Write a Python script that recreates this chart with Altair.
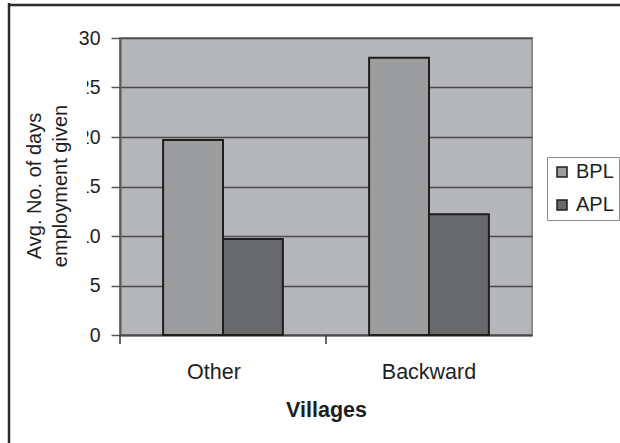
import altair as alt
import pandas as pd

# Average number of days of employment given, by village type and poverty status
villages = ["Other", "Backward"]
groups = ["BPL", "APL"]
bpl_days = [19.7, 28.0]
apl_days = [9.7, 12.2]
y_ticks = [0, 5, 10, 15, 20, 25, 30]
y_title = ["Avg. No. of days", "employment given"]
x_title = "Villages"
bar_colors = ["#9c9d9f", "#68696b"]

rows = []
for v, b, a in zip(villages, bpl_days, apl_days):
    rows.append({"village": v, "group": "BPL", "days": b})
    rows.append({"village": v, "group": "APL", "days": a})
df = pd.DataFrame(rows)

W, H = 412, 297
FONT = "Liberation Sans"
INK = "#1e1e1e"

x_enc = alt.X(
    "village:N",
    sort=villages,
    scale=alt.Scale(paddingInner=0, paddingOuter=0),
    axis=alt.Axis(
        title=x_title, labelAngle=0, ticks=False, tickSize=0, labelPadding=26,
        labelOffset={"condition": {"test": "datum.value == 'Other'", "value": -9},
                     "value": 0},
        labelFont=FONT, labelFontSize=21.5, labelColor=INK,
        titleFont=FONT, titleFontSize=21.5, titleFontWeight="bold", titleColor=INK,
        titleY=81, titleBaseline="alphabetic",
        domainColor="#4a4a4a", domainWidth=2, grid=False,
    ),
)

y_enc = alt.Y(
    "days:Q",
    scale=alt.Scale(domain=[0, 30], nice=False),
    axis=alt.Axis(
        title=None, values=y_ticks, tickSize=9, tickColor="#555555", tickWidth=1.5,
        labelPadding=11, labelFont=FONT, labelFontSize=19.5, labelColor=INK,
        domainColor="#5a5a5a", domainWidth=2,
        grid=True, gridColor="#4a4a4a", gridWidth=1.5,
    ),
)

bars = alt.Chart(df).mark_bar(stroke=INK, strokeWidth=2).encode(
    x=x_enc,
    xOffset=alt.XOffset("group:N", sort=groups,
                        scale=alt.Scale(paddingInner=0, paddingOuter=0.72)),
    y=y_enc,
    color=alt.Color(
        "group:N", sort=groups,
        scale=alt.Scale(domain=groups, range=bar_colors),
        legend=alt.Legend(
            title=None, orient="none", legendX=427, legendY=119,
            symbolType="square", symbolSize=100, symbolStrokeColor=INK,
            symbolStrokeWidth=1.5, symbolOpacity=1,
            labelFont=FONT, labelFontSize=20, labelColor=INK, labelOffset=4,
            padding=5, rowPadding=13, strokeColor="#8c8c8c", fillColor="white",
        ),
    ),
)

# category separators below the x axis
ticks = alt.Chart(pd.DataFrame({"village": villages})).mark_rule(
    color="#333333", strokeWidth=1.5
).encode(
    x=alt.X("village:N", sort=villages, bandPosition=0),
    y=alt.value(H), y2=alt.value(H + 9),
)

one = alt.Data(values=[{}])

# white box of the y-axis title, sitting over the tick labels
title_box = alt.Chart(one).mark_rect(color="white").encode(
    x=alt.value(-108), x2=alt.value(-33), y=alt.value(22), y2=alt.value(282)
)

y_title_text = alt.Chart(one).mark_text(
    text=y_title, angle=270, align="center", baseline="middle",
    font=FONT, fontSize=20, lineHeight=26, color=INK,
).encode(x=alt.value(-85), y=alt.value(148))

# outer frame (top and left edges)
frame_top = alt.Chart(one).mark_rule(color="#2b2b2b", strokeWidth=2.5).encode(
    x=alt.value(-112), x2=alt.value(510), y=alt.value(-33)
)
frame_left = alt.Chart(one).mark_rule(color="#2b2b2b", strokeWidth=2.5).encode(
    x=alt.value(-111), y=alt.value(-35), y2=alt.value(410)
)

chart = alt.layer(
    bars, ticks, title_box, y_title_text, frame_top, frame_left
).properties(
    width=W, height=H,
    autosize=alt.AutoSizeParams(type="none"),
    padding={"left": 120, "top": 38, "right": 88, "bottom": 108},
    background="white",
).configure_view(
    fill="#b5b6b9", stroke="#8c8c8c", strokeWidth=2
)

chart.save("out.html", embed_options={"renderer": "svg", "actions": False})
